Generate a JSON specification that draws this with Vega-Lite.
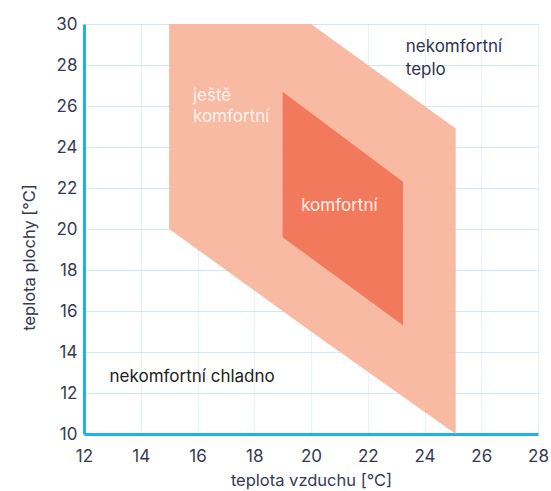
{
  "$schema": "https://vega.github.io/schema/vega-lite/v6.json",
  "width": 454,
  "height": 410,
  "autosize": {"type": "none"},
  "padding": {"left": 84, "top": 24, "right": 13, "bottom": 57},
  "background": "white",
  "config": {
    "view": {"stroke": null},
    "font": "Inter",
    "axis": {
      "domainColor": "#1cb2ea",
      "domainWidth": 3,
      "ticks": false,
      "labelFlush": false,
      "labelFont": "Inter",
      "labelFontSize": 17,
      "labelColor": "#353a55",
      "labelPadding": 7,
      "titleFont": "Inter",
      "titleFontSize": 16.5,
      "titleFontWeight": "normal",
      "titleColor": "#353a55",
      "gridColor": "#a9d6f2",
      "zindex": 1
    }
  },
  "layer": [
    {
      "data": {"values": [
        {"x": 15, "lo": 20, "hi": 30},
        {"x": 20, "lo": 15, "hi": 30},
        {"x": 25.1, "lo": 10, "hi": 24.9}
      ]},
      "mark": {"type": "area", "color": "#f7b59b", "opacity": 0.93, "clip": true},
      "encoding": {
        "x": {"field": "x", "type": "quantitative", "scale": {"domain": [12, 28], "nice": false},
          "axis": {"values": [12,14,16,18,20,22,24,26,28], "title": "teplota vzduchu [°C]", "gridOpacity": 0.3, "labelPadding": 14, "titlePadding": 8}},
        "y": {"field": "lo", "type": "quantitative", "scale": {"domain": [10, 30], "nice": false, "zero": false},
          "axis": {"values": [10,12,14,16,18,20,22,24,26,28,30], "title": "teplota plochy [°C]", "gridOpacity": 0.55, "titleY": 233, "titlePadding": 18}},
        "y2": {"field": "hi"}
      }
    },
    {
      "data": {"values": [
        {"x": 19, "lo": 19.6, "hi": 26.7},
        {"x": 23.24, "lo": 15.3, "hi": 22.3}
      ]},
      "mark": {"type": "area", "color": "#f27456", "opacity": 0.93},
      "encoding": {
        "x": {"field": "x", "type": "quantitative"},
        "y": {"field": "lo", "type": "quantitative"},
        "y2": {"field": "hi"}
      }
    },
    {
      "data": {"values": [
        {"x": 15.84, "y": 26.5, "t": "ještě", "c": "w"},
        {"x": 15.84, "y": 25.45, "t": "komfortní", "c": "w"},
        {"x": 23.34, "y": 28.9, "t": "nekomfortní", "c": "d"},
        {"x": 23.34, "y": 27.75, "t": "teplo", "c": "d"},
        {"x": 12.9, "y": 12.8, "t": "nekomfortní chladno", "c": "b"}
      ]},
      "mark": {"type": "text", "align": "left", "baseline": "middle", "fontSize": 17, "font": "Inter"},
      "encoding": {
        "x": {"field": "x", "type": "quantitative"},
        "y": {"field": "y", "type": "quantitative"},
        "text": {"field": "t"},
        "color": {"field": "c", "type": "nominal", "scale": {"domain": ["w", "d", "b"], "range": ["#fdf3ee", "#2e3350", "#222222"]}, "legend": null}
      }
    },
    {
      "data": {"values": [
        {"x": 21.0, "y": 21.1, "t": "komfortní"}
      ]},
      "mark": {"type": "text", "align": "center", "baseline": "middle", "fontSize": 17, "font": "Inter", "color": "#fdf1ec"},
      "encoding": {
        "x": {"field": "x", "type": "quantitative"},
        "y": {"field": "y", "type": "quantitative"},
        "text": {"field": "t"}
      }
    }
  ]
}
